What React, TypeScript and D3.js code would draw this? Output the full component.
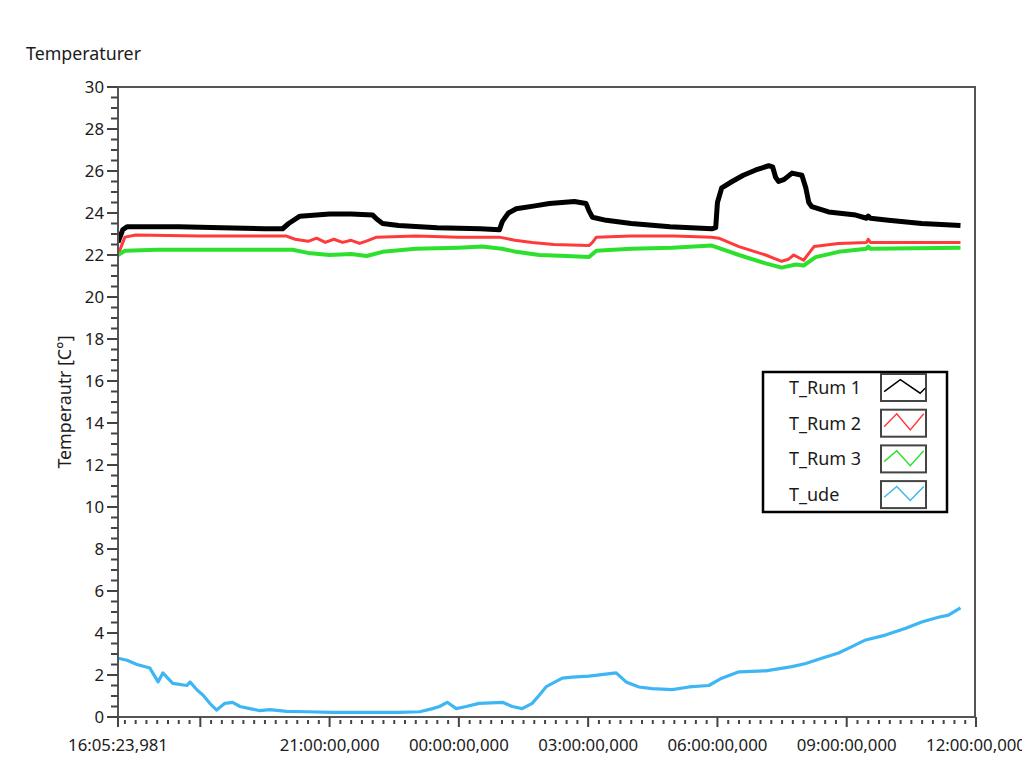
import React from "react";
import * as d3 from "d3";

// Time in hours on a continuous clock (values > 24 are the next day)
const START_H = 16 + 5 / 60 + 23.981 / 3600;
const END_H = 36;

const rum1T = [16.09, 16.2, 16.3, 17.5, 18.5, 19.5, 19.91, 20.05, 20.31, 21.0, 21.5, 22.0, 22.1, 22.23, 22.6, 23.5, 24.5, 24.94, 25.01, 25.15, 25.33, 25.8, 26.1, 26.68, 26.95, 27.02, 27.1, 27.42, 28.0, 28.9, 29.87, 29.96, 30.0, 30.1, 30.34, 30.6, 30.89, 31.19, 31.28, 31.35, 31.42, 31.55, 31.73, 31.96, 32.05, 32.12, 32.19, 32.58, 33.21, 33.46, 33.5, 33.55, 33.97, 34.74, 35.64];
const rum1V = [22.6, 23.2, 23.35, 23.35, 23.3, 23.25, 23.25, 23.5, 23.85, 23.95, 23.95, 23.9, 23.7, 23.5, 23.4, 23.3, 23.25, 23.2, 23.6, 24.0, 24.2, 24.35, 24.45, 24.55, 24.45, 24.1, 23.8, 23.65, 23.5, 23.35, 23.25, 23.3, 24.5, 25.2, 25.5, 25.8, 26.05, 26.25, 26.2, 25.7, 25.5, 25.6, 25.9, 25.8, 25.2, 24.5, 24.3, 24.05, 23.9, 23.75, 23.85, 23.75, 23.65, 23.5, 23.4];

const rum2T = [16.09, 16.25, 16.5, 18.0, 20.0, 20.2, 20.5, 20.7, 20.9, 21.1, 21.3, 21.5, 21.7, 21.9, 22.09, 23.0, 24.0, 24.94, 25.3, 25.7, 26.2, 27.02, 27.1, 27.19, 28.0, 29.0, 29.87, 30.03, 30.5, 31.12, 31.49, 31.65, 31.77, 32.0, 32.24, 32.81, 33.46, 33.5, 33.55, 35.64];
const rum2V = [22.0, 22.85, 22.95, 22.9, 22.9, 22.75, 22.65, 22.8, 22.6, 22.75, 22.6, 22.7, 22.55, 22.7, 22.85, 22.9, 22.85, 22.85, 22.7, 22.6, 22.5, 22.45, 22.6, 22.85, 22.9, 22.9, 22.85, 22.8, 22.4, 22.0, 21.7, 21.8, 22.0, 21.75, 22.4, 22.55, 22.6, 22.75, 22.6, 22.6];

const rum3T = [16.09, 16.25, 17.0, 19.0, 20.14, 20.5, 21.0, 21.5, 21.86, 22.23, 23.0, 24.0, 24.54, 25.0, 25.33, 25.87, 26.5, 27.02, 27.19, 28.0, 28.95, 29.87, 30.5, 31.12, 31.49, 31.82, 32.0, 32.28, 32.81, 33.46, 33.5, 33.55, 35.64];
const rum3V = [22.0, 22.2, 22.25, 22.25, 22.25, 22.1, 22.0, 22.05, 21.95, 22.15, 22.3, 22.35, 22.4, 22.3, 22.15, 22.0, 21.95, 21.9, 22.2, 22.3, 22.35, 22.45, 22.0, 21.6, 21.4, 21.55, 21.5, 21.9, 22.15, 22.3, 22.4, 22.3, 22.35];

const udeT = [16.09, 16.3, 16.53, 16.83, 17.02, 17.13, 17.36, 17.69, 17.76, 17.92, 18.06, 18.22, 18.38, 18.57, 18.75, 18.92, 19.15, 19.38, 19.61, 20.0, 20.47, 21.07, 22.62, 23.09, 23.39, 23.55, 23.73, 23.94, 24.17, 24.47, 25.01, 25.24, 25.47, 25.7, 25.87, 26.03, 26.17, 26.4, 26.63, 27.02, 27.65, 27.88, 28.18, 28.48, 28.95, 29.34, 29.8, 30.1, 30.5, 31.12, 31.73, 32.05, 32.42, 32.81, 33.12, 33.44, 33.9, 34.37, 34.74, 35.13, 35.36, 35.64];
const udeV = [2.8, 2.7, 2.5, 2.33, 1.67, 2.1, 1.6, 1.5, 1.67, 1.3, 1.05, 0.65, 0.33, 0.65, 0.7, 0.5, 0.4, 0.3, 0.35, 0.27, 0.25, 0.22, 0.22, 0.25, 0.4, 0.5, 0.7, 0.4, 0.5, 0.65, 0.7, 0.5, 0.4, 0.65, 1.05, 1.45, 1.6, 1.85, 1.9, 1.95, 2.1, 1.67, 1.43, 1.35, 1.3, 1.43, 1.5, 1.85, 2.15, 2.2, 2.4, 2.55, 2.8, 3.05, 3.35, 3.67, 3.9, 4.23, 4.52, 4.75, 4.85, 5.2];

const seriesNames = ["T_Rum 1", "T_Rum 2", "T_Rum 3", "T_ude"];
const seriesColors = ["#000000", "#ff3a3a", "#2ee02e", "#3fb6f4"];
const seriesWidths = [5, 3, 4, 3.2];

const xMajorHours = [18, 21, 24, 27, 30, 33, 36];
const xLabels = ["", "21:00:00,000", "00:00:00,000", "03:00:00,000", "06:00:00,000", "09:00:00,000", "12:00:00,000"];
const startLabel = "16:05:23,981";
const yMajor = [0, 2, 4, 6, 8, 10, 12, 14, 16, 18, 20, 22, 24, 26, 28, 30];

const FONT = "'Noto Sans', 'Open Sans', sans-serif";

export default function App() {
  const L = 118, R = 976, T = 87, B = 717;
  const x = d3.scaleLinear().domain([START_H, END_H]).range([L, R]);
  const y = d3.scaleLinear().domain([0, 30]).range([B, T]);

  const data = [
    [rum1T, rum1V],
    [rum2T, rum2V],
    [rum3T, rum3V],
    [udeT, udeV],
  ];
  const line = d3
    .line<[number, number]>()
    .x((d) => x(d[0]))
    .y((d) => y(d[1]));

  const xMinor = d3.range(16.25, END_H + 0.001, 0.25).filter((h) => !xMajorHours.some((m) => Math.abs(m - h) < 1e-6));
  const yMinor = d3.range(0, 30.001, 0.5).filter((v) => Math.abs(v / 2 - Math.round(v / 2)) > 1e-6);

  const legX = 763, legY = 372, legW = 184, legH = 140;
  const swX = 881, swW = 45, swH = 27;
  const zig = [
    [[0.07, 0.65], [0.43, 0.21], [0.87, 0.71], [0.98, 0.53]],
    [[0.07, 0.63], [0.35, 0.15], [0.65, 0.75], [0.95, 0.15]],
    [[0.07, 0.6], [0.35, 0.2], [0.65, 0.75], [0.95, 0.2]],
    [[0.07, 0.6], [0.35, 0.2], [0.65, 0.72], [0.95, 0.2]],
  ];

  return (
    <div style={{ position: "absolute", left: 0, top: 0 }}>
      <svg width={1022} height={758} style={{ display: "block", background: "#fff" }} fontFamily={FONT}>
        <text x={26} y={60} fontSize={17.8} fill="#1c1c1c">Temperaturer</text>

        <defs>
          <clipPath id="clip">
            <rect x={L} y={T} width={R - L} height={B - T} />
          </clipPath>
        </defs>

        {/* series */}
        <g clipPath="url(#clip)">
          {data.map(([ts, vs], i) => (
            <path
              key={i}
              d={line(ts.map((t, j) => [t, vs[j]] as [number, number])) || ""}
              fill="none"
              stroke={seriesColors[i]}
              strokeWidth={seriesWidths[i]}
              strokeLinejoin="round"
            />
          ))}
        </g>

        {/* frame */}
        <rect x={L} y={T} width={R - 1 - L} height={B - T} fill="none" stroke="#555" strokeWidth={2} />

        {/* y axis ticks */}
        {yMajor.map((v) => (
          <g key={"ym" + v}>
            <line x1={107} x2={L} y1={y(v)} y2={y(v)} stroke="#444" strokeWidth={2} />
            <text x={104} y={y(v)} dy="0.35em" textAnchor="end" fontSize={16.8} fill="#1c1c1c">{v}</text>
          </g>
        ))}
        {yMinor.map((v) => (
          <line key={"yn" + v} x1={111} x2={L} y1={y(v)} y2={y(v)} stroke="#444" strokeWidth={2} />
        ))}

        {/* x axis ticks */}
        <line x1={x(START_H)} x2={x(START_H)} y1={B} y2={B + 10} stroke="#444" strokeWidth={2} />
        <text x={x(START_H)} y={751} textAnchor="middle" fontSize={16.8} fill="#1c1c1c">{startLabel}</text>
        {xMajorHours.map((h, i) => (
          <g key={"xm" + h}>
            <line x1={x(h)} x2={x(h)} y1={B} y2={B + 10} stroke="#444" strokeWidth={2} />
            {xLabels[i] && (
              <text x={x(h)} y={751} textAnchor="middle" fontSize={16.8} fill="#1c1c1c">{xLabels[i]}</text>
            )}
          </g>
        ))}
        {xMinor.map((h) => (
          <line key={"xn" + h} x1={x(h)} x2={x(h)} y1={B + 3} y2={B + 7} stroke="#444" strokeWidth={2} />
        ))}

        <text
          transform={`translate(71, ${(T + B) / 2}) rotate(-90)`}
          textAnchor="middle"
          fontSize={17.8}
          fill="#1c1c1c"
        >
          Temperautr [C°]
        </text>

        {/* legend */}
        <rect x={legX} y={legY} width={legW} height={legH} fill="#fff" stroke="#000" strokeWidth={2.5} />
        {seriesNames.map((n, i) => {
          const sy = 374 + i * 35.7;
          const pts = zig[i].map(([a, b]) => [swX + a * swW, sy + b * swH] as [number, number]);
          return (
            <g key={n}>
              <text x={789} y={sy + swH / 2} dy="0.35em" fontSize={18} fill="#1c1c1c">{n}</text>
              <rect x={swX} y={sy} width={swW} height={swH} fill="#fff" stroke="#444" strokeWidth={2} />
              <path d={d3.line()(pts) || ""} fill="none" stroke={seriesColors[i]} strokeWidth={1.5} />
            </g>
          );
        })}
      </svg>
    </div>
  );
}
